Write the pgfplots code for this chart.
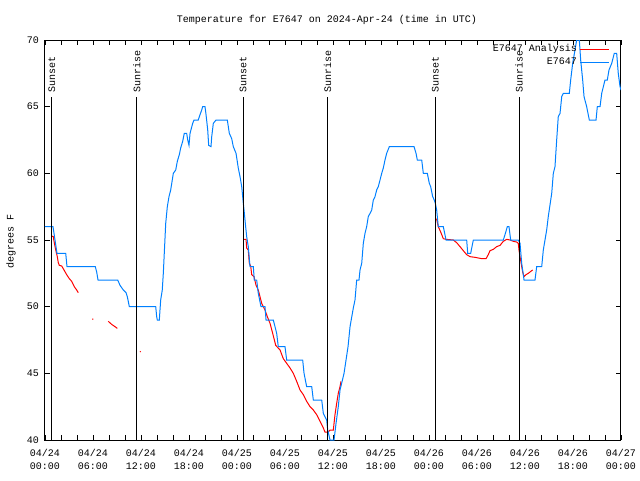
\documentclass[border=0pt]{standalone}
\usepackage{pgfplots}
\pgfplotsset{compat=1.18}
\usepackage{fontspec}
\setmainfont{Liberation Mono}
\definecolor{obsblue}{RGB}{0,128,255}
\definecolor{anared}{RGB}{255,0,0}
\begin{document}
\fontsize{10}{12}\selectfont
\begin{tikzpicture}
\path[use as bounding box] (-45pt,-40pt) rectangle (595pt,440pt);
\begin{axis}[
  scale only axis, width=576pt, height=400pt,
  at={(0pt,0pt)}, anchor=south west,
  xmin=0, xmax=72, ymin=40, ymax=70,
  xtick={0,6,...,72}, minor x tick num=2,
  ytick={40,45,...,70},
  tick align=inside, major tick length=5pt, minor tick length=5pt,
  tick style={black, line width=0.8pt},
  axis line style={black, line width=1pt},
  xticklabels={{04/24\\00:00},{04/24\\06:00},{04/24\\12:00},{04/24\\18:00},{04/25\\00:00},{04/25\\06:00},{04/25\\12:00},{04/25\\18:00},{04/26\\00:00},{04/26\\06:00},{04/26\\12:00},{04/26\\18:00},{04/27\\00:00}},
  xticklabel style={align=center, font=\fontsize{10}{12.5}\selectfont, yshift=-6pt},
  yticklabel style={font=\fontsize{10}{12}\selectfont, xshift=-2.7pt},
  /pgf/number format/assume math mode=true,
  legend cell align=right, legend plot pos=right,
  legend image code/.code={\draw[#1] (0pt,0pt) -- (29pt,0pt);},
  legend style={draw=none, fill=none, at={(rel axis cs:1,1)}, anchor=north east,
    xshift=-11pt, yshift=-2.5pt, inner sep=0pt, column sep=1pt, row sep=0pt,
    nodes={inner sep=2pt, text height=7pt, text depth=2pt},
    font=\fontsize{10}{12}\selectfont},
  clip=true,
]
\addplot[anared, line width=1pt, unbounded coords=jump] table {
x y
0.84 55.3
1.04 55.25
1.13 54.9
1.34 54.25
1.54 53.75
1.66 53.3
1.79 53.1
2.09 53.05
2.38 52.75
2.71 52.4
3.04 52.1
3.34 51.9
3.66 51.5
3.96 51.25
4.16 51.05
nan nan
5.88 49.07
6.04 49.07
nan nan
7.91 48.9
8.34 48.67
8.75 48.5
9.04 48.37
nan nan
11.88 46.65
11.96 46.6
nan nan
24.79 55.05
25.13 55.05
25.21 54.4
25.41 54.25
25.54 53.25
25.71 53.05
25.84 52.4
26.13 52.25
26.38 51.6
26.66 51.25
27.09 50.25
27.5 49.75
27.79 49.25
28.13 48.75
28.46 48
28.84 47.1
29.38 46.75
29.79 46.1
30.21 45.75
30.63 45.4
31.04 45
31.46 44.4
31.88 43.75
32.29 43.4
32.71 42.9
33.13 42.5
33.54 42.25
33.96 41.9
34.38 41.4
34.79 40.9
35.0 40.6
35.41 40.6
35.63 40.75
36.04 40.75
36.25 41.9
36.46 42.75
36.66 43.5
36.88 44
37.0 44.4
nan nan
48.79 56.6
48.96 56.55
49.16 56
49.46 55.6
49.79 55.1
50.13 55.05
51.04 55
51.46 54.8
51.88 54.5
52.29 54.2
52.71 53.9
53.13 53.75
53.75 53.7
54.59 53.6
55.13 53.6
55.41 53.9
55.63 54.2
56.04 54.3
56.46 54.5
56.88 54.6
57.29 54.9
57.71 55.05
58.13 55
58.54 54.9
58.96 54.85
59.16 54.75
59.25 54.25
59.38 53.75
59.59 53
59.71 52.6
59.88 52.25
60.13 52.4
60.41 52.5
60.84 52.7
60.96 52.75
};
\addlegendentry{E7647 Analysis}
\addplot[obsblue, line width=1pt] table {
x y
0 56
1.0 56
1.25 55
1.5 54
2.59 54
2.75 53
6.29 53
6.46 52.6
6.63 52
9.09 52
9.38 51.6
9.79 51.25
10.13 51.05
10.29 50.75
10.46 50.25
10.54 50
13.84 50
13.96 49.25
14.04 49
14.29 49
14.46 50.5
14.66 51.25
14.79 52.5
14.91 54
15.09 56.25
15.29 57.5
15.5 58.25
15.71 58.75
15.91 59.5
16.04 60
16.34 60.25
16.54 60.9
16.79 61.4
16.96 61.9
17.21 62.4
17.41 63
17.71 63
17.84 62.5
18.0 62.1
18.13 63
18.46 63.75
18.63 64
19.16 64
19.38 64.4
19.59 64.75
19.71 65
20.0 65
20.13 64.4
20.34 63.25
20.46 62.1
20.75 62
20.84 62.75
21.04 63.75
21.38 64
22.79 64
23.04 63
23.34 62.6
23.54 62
23.88 61.5
24.16 60.4
24.38 59.75
24.59 59
24.79 57.75
24.88 57.25
25.04 56.25
25.21 55.25
25.41 54.5
25.63 53
26.04 53
26.16 52
26.46 52
26.66 51
27.0 50
27.5 50
27.63 49
28.54 49
28.96 48
29.16 47
30.0 47
30.21 46
32.21 46
32.38 45
32.71 44
33.34 44
33.54 43
34.59 43
34.79 42
35.21 41.5
35.34 40.75
35.63 40
36.13 40
36.38 41.25
36.66 42.5
36.88 43.75
37.38 45
37.88 47
38.13 48.5
38.54 49.9
38.75 50.5
38.96 52
39.25 52
39.38 52.75
39.59 53.25
39.79 54.75
40.0 55.5
40.21 56
40.41 56.75
40.63 57
40.84 57.25
41.04 58
41.25 58.25
41.46 58.75
41.66 59
41.88 59.5
42.09 60
42.29 60.4
42.5 61
42.71 61.5
43.04 62
46.13 62
46.38 61.5
46.54 61
47.09 61
47.29 60
47.79 60
48.04 59.25
48.21 59
48.46 58.25
48.66 58
48.79 57.75
48.96 57.25
49.16 56
49.79 56
50.13 55
52.71 55
52.84 54
53.21 54
53.54 55
57.29 55
57.5 55.4
57.79 56
58.0 56
58.21 55
59.16 55
59.38 54.75
59.59 53.25
59.88 52
61.25 52
61.46 53
62.09 53
62.29 54.25
62.5 55
62.71 55.75
62.91 56.75
63.34 58.5
63.54 60
63.75 60.5
63.96 62.5
64.16 64.25
64.38 64.5
64.59 65.75
64.79 66
65.54 66
65.71 67
65.96 68.25
66.25 69.25
66.46 70
66.79 70
66.96 68.5
67.21 67
67.38 65.75
67.71 65
68.04 64
68.88 64
69.04 65
69.38 65
69.59 66
70.0 67
70.29 67
70.5 67.75
70.84 68.25
71.16 69
71.46 69
71.66 67.5
71.88 66.5
72.0 66.25
};
\addlegendentry{E7647}
\addplot[black, line width=1pt, forget plot] coordinates {(0.84,40) (0.84,65.7)};
\addplot[black, line width=1pt, forget plot] coordinates {(11.46,40) (11.46,65.7)};
\addplot[black, line width=1pt, forget plot] coordinates {(24.77,40) (24.77,65.7)};
\addplot[black, line width=1pt, forget plot] coordinates {(35.33,40) (35.33,65.7)};
\addplot[black, line width=1pt, forget plot] coordinates {(48.8,40) (48.8,65.7)};
\addplot[black, line width=1pt, forget plot] coordinates {(59.27,40) (59.27,65.7)};
\node[rotate=90, anchor=west, inner sep=0pt] at (axis cs:0.84,66.05) {Sunset};
\node[rotate=90, anchor=west, inner sep=0pt] at (axis cs:11.46,66.05) {Sunrise};
\node[rotate=90, anchor=west, inner sep=0pt] at (axis cs:24.77,66.05) {Sunset};
\node[rotate=90, anchor=west, inner sep=0pt] at (axis cs:35.33,66.05) {Sunrise};
\node[rotate=90, anchor=west, inner sep=0pt] at (axis cs:48.8,66.05) {Sunset};
\node[rotate=90, anchor=west, inner sep=0pt] at (axis cs:59.27,66.05) {Sunrise};
\end{axis}
\node at (282pt,420pt) {Temperature for E7647 on 2024-Apr-24 (time in UTC)};
\node[rotate=90] at (-34pt,199pt) {degrees F};
\end{tikzpicture}
\end{document}
